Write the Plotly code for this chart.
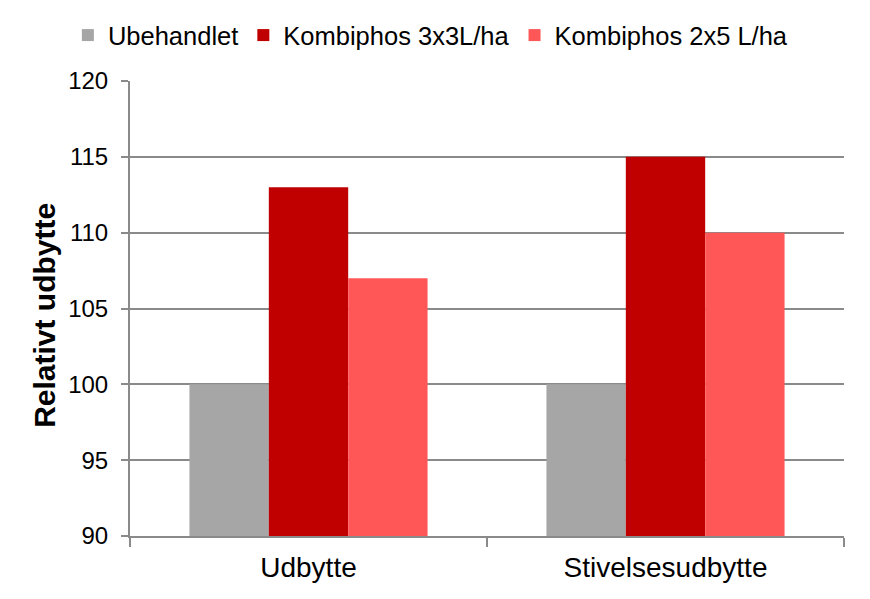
import plotly.graph_objects as go

categories = ["Udbytte", "Stivelsesudbytte"]
series_names = ["Ubehandlet", "Kombiphos 3x3L/ha", "Kombiphos 2x5 L/ha"]
ubehandlet = [100, 100]
kombi_3x3 = [113, 115]
kombi_2x5 = [107, 110]
y_ticks = [90, 95, 100, 105, 110, 115, 120]

colors = ["#A6A6A6", "#C00000", "#FF5757"]

fig = go.Figure()
for name, vals, col in zip(series_names, [ubehandlet, kombi_3x3, kombi_2x5], colors):
    fig.add_bar(x=categories, y=vals, name=name, marker_color=col, marker_line_width=0)

FONT = "Liberation Sans, Arial, sans-serif"

# the page body adds ~8px offset, margins compensate for that
fig.update_layout(
    width=870,
    height=599,
    barmode="group",
    bargap=0.333,
    bargroupgap=0,
    plot_bgcolor="white",
    paper_bgcolor="white",
    font=dict(family=FONT, size=24, color="black"),
    margin=dict(l=122, r=34, t=73, b=71, autoexpand=False),
    showlegend=True,
    legend=dict(
        orientation="h",
        x=-0.087, xanchor="left",
        y=1.1, yanchor="middle",
        font=dict(size=25.5),
        itemwidth=30,
        traceorder="normal",
    ),
)

fig.add_annotation(
    text="<b>Relativt udbytte</b>", textangle=-90,
    xref="paper", yref="paper", x=-0.1197, y=0.485,
    xanchor="center", yanchor="middle", showarrow=False,
    font=dict(size=30),
)

fig.update_xaxes(
    showline=True, linecolor="#8A8A8A", linewidth=2,
    ticks="outside", tickson="boundaries", ticklen=9, tickcolor="#8A8A8A", tickwidth=2,
    showgrid=False, automargin=False,
    tickfont=dict(size=28), ticklabelstandoff=5,
)
fig.update_yaxes(
    range=[90, 120], tickvals=y_ticks,
    showline=True, linecolor="#8A8A8A", linewidth=2,
    ticks="outside", ticklen=7, tickcolor="#8A8A8A", tickwidth=2,
    showgrid=True, gridcolor="#8A8A8A", gridwidth=1.5,
    zeroline=False, automargin=False, ticklabelstandoff=8,
)

fig.write_html("out.html")
